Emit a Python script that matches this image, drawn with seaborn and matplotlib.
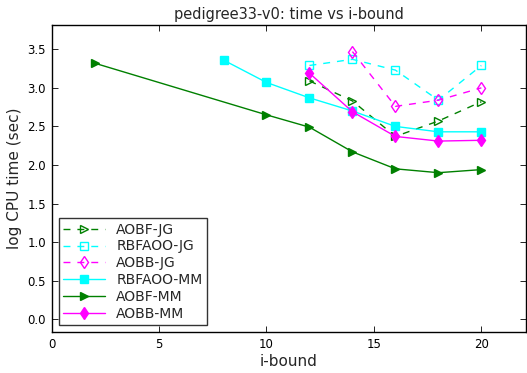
import matplotlib
matplotlib.use("Agg")
import matplotlib.pyplot as plt
import seaborn as sns
import pandas as pd

sns.set_theme(style="white")
plt.rcParams['font.family'] = ['DejaVu Sans']

aobf_jg_x = [12, 14, 16, 18, 20]
aobf_jg_y = [3.09, 2.83, 2.37, 2.57, 2.82]
rbfaoo_jg_x = [12, 14, 16, 18, 20]
rbfaoo_jg_y = [3.29, 3.37, 3.23, 2.84, 3.29]
aobb_jg_x = [14, 16, 18, 20]
aobb_jg_y = [3.47, 2.76, 2.84, 3.00]
rbfaoo_mm_x = [8, 10, 12, 14, 16, 18, 20]
rbfaoo_mm_y = [3.36, 3.07, 2.87, 2.70, 2.50, 2.43, 2.43]
aobf_mm_x = [2, 10, 12, 14, 16, 18, 20]
aobf_mm_y = [3.32, 2.65, 2.49, 2.17, 1.95, 1.90, 1.94]
aobb_mm_x = [12, 14, 16, 18, 20]
aobb_mm_y = [3.19, 2.69, 2.37, 2.31, 2.32]

series = [
    ("AOBF-JG", aobf_jg_x, aobf_jg_y, "green", ">", (0, (5, 5)), False),
    ("RBFAOO-JG", rbfaoo_jg_x, rbfaoo_jg_y, "cyan", "s", (0, (5, 5)), False),
    ("AOBB-JG", aobb_jg_x, aobb_jg_y, "magenta", "d", (0, (5, 5)), False),
    ("RBFAOO-MM", rbfaoo_mm_x, rbfaoo_mm_y, "cyan", "s", "-", True),
    ("AOBF-MM", aobf_mm_x, aobf_mm_y, "green", ">", "-", True),
    ("AOBB-MM", aobb_mm_x, aobb_mm_y, "magenta", "d", "-", True),
]

fig = plt.figure(figsize=(5.27, 3.73), dpi=100)
ax = fig.add_axes([0.098, 0.109, 0.901, 0.824])

for name, xs, ys, col, mk, ls, filled in series:
    df = pd.DataFrame({"x": xs, "y": ys})
    sns.lineplot(data=df, x="x", y="y", ax=ax, color=col, marker=mk,
                 linestyle=ls, linewidth=1, markersize=6,
                 markerfacecolor=col if filled else "none",
                 markeredgecolor=col, markeredgewidth=1,
                 label=name, estimator=None, sort=False)

ax.set_xlim(0, 22.1)
ax.set_ylim(-0.17, 3.815)
ax.set_xticks([0, 5, 10, 15, 20])
ax.set_yticks([0.0, 0.5, 1.0, 1.5, 2.0, 2.5, 3.0, 3.5])
ax.set_yticklabels([f"{v:.1f}" for v in [0.0, 0.5, 1.0, 1.5, 2.0, 2.5, 3.0, 3.5]])
ax.tick_params(direction="in", length=4, width=0.6, top=True, right=True,
               labelsize=8.5, colors="black", pad=4, bottom=True, left=True)
for s in ax.spines.values():
    s.set_color("black")
    s.set_linewidth(1)
ax.set_xlabel("i-bound", fontsize=11, labelpad=2)
ax.set_ylabel("log CPU time (sec)", fontsize=11, labelpad=4)
ax.set_title("pedigree33-v0: time vs i-bound", fontsize=10.5, pad=4)

leg = ax.legend(loc="lower left", fontsize=10, frameon=True, fancybox=False,
                borderpad=0.35, labelspacing=0.2, handlelength=3,
                borderaxespad=0.5)
leg.get_frame().set_edgecolor("black")
leg.get_frame().set_linewidth(1)

fig.savefig("out.png", dpi=100)
